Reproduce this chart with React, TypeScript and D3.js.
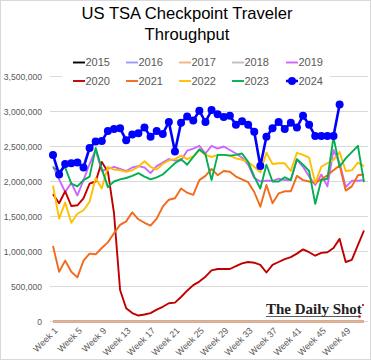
import React from "react";
import * as d3 from "d3";

const years = ["2015","2016","2017","2018","2019","2020","2021","2022","2023","2024"];
const colors = ["#000000","#9999FF","#F4B183","#BFBFBF","#CC66FF","#C00000","#F26A1B","#FFC000","#00B050","#0000FF"];

const weeks = d3.range(1, 53).map((w) => `Week ${w}`);
const weekTicks = ["Week 1","Week 5","Week 9","Week 13","Week 17","Week 21","Week 25","Week 29","Week 33","Week 37","Week 41","Week 45","Week 49"];
const yTicks = [0, 500000, 1000000, 1500000, 2000000, 2500000, 3000000, 3500000];

// values in millions of travelers (weekly)
const s2015: number[] = new Array(52).fill(0);
const s2016: number[] = new Array(52).fill(0);
const s2017: number[] = new Array(52).fill(0);
const s2018: number[] = new Array(52).fill(0);
const s2019 = [2.22,2.03,1.85,1.98,1.80,2.02,2.25,2.45,2.15,2.18,2.21,2.18,2.15,2.20,2.22,2.20,2.12,2.22,2.27,2.32,2.30,2.30,2.44,2.47,2.51,2.40,2.51,2.47,2.50,2.45,2.40,2.34,2.24,2.05,2.00,2.01,2.01,2.04,2.02,2.02,2.31,2.21,2.07,1.95,2.10,1.93,2.45,2.26,1.92,2.01,2.01,2.02];
const s2020 = [1.82,1.69,1.86,1.65,1.66,1.76,1.97,2.00,2.28,2.14,1.55,0.45,0.19,0.12,0.085,0.10,0.12,0.17,0.21,0.26,0.27,0.35,0.44,0.52,0.57,0.64,0.73,0.75,0.75,0.75,0.79,0.83,0.85,0.84,0.81,0.70,0.81,0.85,0.89,0.92,0.97,1.03,0.99,0.94,0.98,0.99,1.05,1.18,0.85,0.88,1.09,1.30];
const s2021 = [1.08,0.71,0.87,0.71,0.63,0.87,0.97,0.96,1.05,1.13,1.26,1.38,1.43,1.56,1.46,1.41,1.37,1.47,1.64,1.74,1.76,1.90,1.84,1.81,2.02,2.08,2.18,2.09,2.15,2.14,2.07,2.03,1.99,1.85,1.64,1.95,1.69,1.83,1.86,1.86,2.08,2.02,2.00,1.98,2.03,2.09,2.16,2.23,1.87,1.93,2.09,2.10];
const s2022 = [1.94,1.47,1.70,1.41,1.54,1.59,1.71,2.05,1.90,2.21,2.17,2.16,2.14,2.16,2.21,2.29,2.21,2.17,2.25,2.30,2.32,2.37,2.32,2.36,2.45,2.38,2.35,2.38,2.38,2.37,2.33,2.31,2.28,2.21,2.13,2.41,2.25,2.26,2.26,2.15,2.41,2.38,2.34,1.98,2.21,2.26,2.31,2.42,2.15,2.16,2.27,2.22];
const s2023 = [2.20,2.15,2.20,1.97,1.93,2.02,2.07,2.48,2.18,1.92,2.00,2.03,2.05,2.08,2.12,2.07,2.03,2.06,2.10,2.18,2.26,2.32,2.24,2.35,2.46,2.39,2.02,2.38,2.38,2.37,2.38,2.40,2.28,2.07,1.90,2.24,2.00,2.00,2.06,2.02,2.32,2.24,2.15,1.68,2.02,2.04,2.63,2.21,2.33,2.42,2.51,1.99];
const s2024 = [2.38,2.10,2.25,2.26,2.27,2.20,2.48,2.57,2.58,2.72,2.75,2.76,2.59,2.67,2.69,2.77,2.64,2.72,2.68,2.85,2.43,2.84,2.93,2.87,3.01,2.85,3.02,2.96,2.92,2.94,2.81,2.86,2.81,2.71,2.22,2.64,2.76,2.85,2.75,2.84,2.77,2.94,2.81,2.65,2.65,2.65,2.65,3.10];

const series = [s2015, s2016, s2017, s2018, s2019, s2020, s2021, s2022, s2023, s2024];
const drawOrder = [0, 1, 3, 2, 4, 5, 6, 7, 8, 9];

export default function App() {
  const W = 371, H = 360;
  const x = d3.scalePoint<string>().domain(weeks).range([53, 364]);
  const y = d3.scaleLinear().domain([0, 3500000]).range([321.5, 76.5]);
  const line = d3.line<number>()
    .x((_, i) => x(weeks[i]) as number)
    .y((d) => y(d * 1e6));
  const fmt = d3.format(",");
  const font = "'Liberation Sans', Arial, sans-serif";

  const legendX = [73, 126, 179, 232, 286];
  const legendY = [62.5, 81];

  return (
    <svg width={W} height={H} style={{ position: "fixed", left: 0, top: 0, background: "#fff" }} fontFamily={font}>
      <rect x={0.5} y={0.5} width={W - 1} height={H - 1} fill="#fff" stroke="#D9D9D9" />
      <text x={187} y={18.5} textAnchor="middle" fontSize={16.6} fill="#000">US TSA Checkpoint Traveler</text>
      <text x={187} y={40} textAnchor="middle" fontSize={16.6} fill="#000">Throughput</text>

      {yTicks.map((t) => (
        <g key={t}>
          <line x1={50} x2={368} y1={y(t)} y2={y(t)} stroke="#D9D9D9" strokeWidth={1} />
          <text x={42} y={y(t)} dy="0.35em" textAnchor="end" fontSize={8.6} fill="#595959">{fmt(t)}</text>
        </g>
      ))}

      {weekTicks.map((w) => (
        <text key={w} transform={`translate(${(x(w) as number) + 3},${329}) rotate(-45)`} textAnchor="end" fontSize={9} fill="#595959" dy="0.35em">{w}</text>
      ))}

      <g>
        <text x={266} y={314} fontFamily="'Liberation Serif', 'DejaVu Serif', serif" fontWeight="bold" fontSize={15} fill="#222">The Daily Shot</text>
        <line x1={266} x2={359} y1={316.5} y2={316.5} stroke="#333" strokeWidth={0.8} />
        <circle cx={359.5} cy={316.5} r={1.3} fill="#C00000" />
        <circle cx={363} cy={305} r={1.1} fill="#C00000" />
      </g>

      {drawOrder.map((k) => (
        <path key={years[k]} d={line(series[k]) || ""} fill="none" stroke={colors[k]}
          strokeWidth={k === 9 ? 2.6 : 1.9} strokeLinejoin="round" />
      ))}
      {s2024.map((v, i) => (
        <circle key={i} cx={x(weeks[i]) as number} cy={y(v * 1e6)} r={4} fill="#0000FF" />
      ))}

      <rect x={62} y={53} width={268} height={37} fill="#fff" />
      {years.map((yr, k) => {
        const col = k % 5, row = Math.floor(k / 5);
        const lx = legendX[col], ly = legendY[row];
        return (
          <g key={yr}>
            <line x1={lx} x2={lx + 12} y1={ly} y2={ly} stroke={colors[k]} strokeWidth={k === 9 ? 2.6 : 1.9} />
            {k === 9 && <circle cx={lx + 6} cy={ly} r={4} fill="#0000FF" />}
            <text x={lx + 12.5} y={ly} dy="0.36em" fontSize={11} fill="#595959">{yr}</text>
          </g>
        );
      })}
    </svg>
  );
}
